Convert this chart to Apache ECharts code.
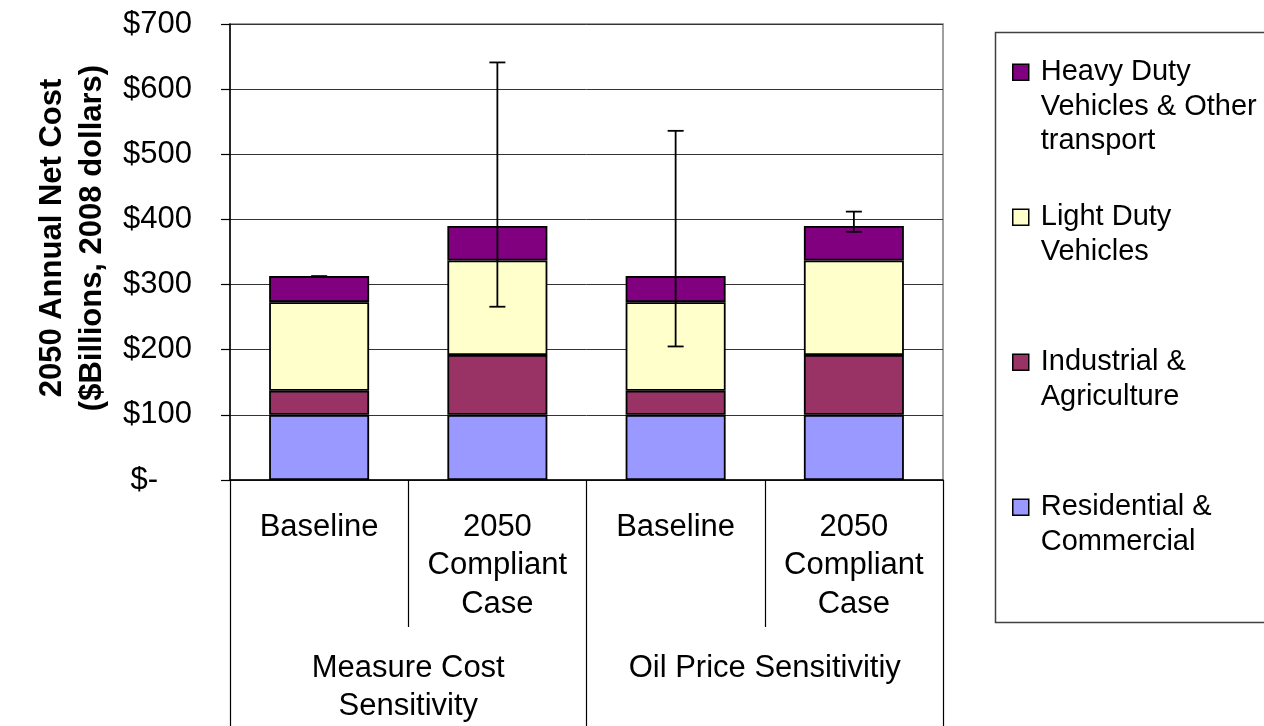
<!DOCTYPE html>
<html>
<head>
<meta charset="utf-8">
<title>2050 Annual Net Cost</title>
<script src="https://cdn.jsdelivr.net/npm/echarts@6/dist/echarts.min.js"></script>
<style>
  html, body { margin: 0; padding: 0; background: #ffffff; }
  #chart { width: 1264px; height: 726px; }
</style>
</head>
<body>
<div id="chart"></div>
<script>
// Cases on the inner axis and sensitivity groups on the outer axis
const caseLabels = ['Baseline', '2050\nCompliant\nCase', 'Baseline', '2050\nCompliant\nCase'];
const groupLabels = ['Measure Cost\nSensitivity', 'Oil Price Sensitivitiy'];

// Sectors, stacked bottom to top
const sectorNames = [
  'Residential & Commercial',
  'Industrial & Agriculture',
  'Light Duty Vehicles',
  'Heavy Duty Vehicles & Other transport'
];
const sectorLabels = [
  'Residential &\nCommercial',
  'Industrial &\nAgriculture',
  'Light Duty\nVehicles',
  'Heavy Duty\nVehicles & Other\ntransport'
];
const sectorColors = ['#9999FF', '#993366', '#FFFFCC', '#800080'];

// 2050 annual net cost by sector ($ billions, 2008 dollars)
const residential = [100, 100, 100, 100];
const industrial = [37, 92, 37, 92];
const lightDuty = [136, 145, 136, 145];
const heavyDuty = [40, 53, 40, 53];

// Sensitivity range on the total (low / high)
const rangeLow = [312, 266, 205, 381];
const rangeHigh = [313, 641, 536, 412];

// Value axis
const yMin = 0, yMax = 700, yStep = 100;

const FONT = "'Liberation Sans', Arial, sans-serif";
const sectorValues = [residential, industrial, lightDuty, heavyDuty];

const barSeries = sectorNames.map((name, i) => ({
  name: name,
  type: 'bar',
  stack: 'total',
  barWidth: 100,
  data: sectorValues[i],
  itemStyle: { color: sectorColors[i], borderColor: '#000000', borderWidth: 1.8 },
  emphasis: { disabled: true },
  z: 2
}));

const errorSeries = {
  name: 'range',
  type: 'custom',
  z: 5,
  silent: true,
  encode: { x: 0, y: [1, 2] },
  data: rangeLow.map((lo, i) => [i, lo, rangeHigh[i]]),
  renderItem: function (params, api) {
    const idx = api.value(0);
    const pLo = api.coord([idx, api.value(1)]);
    const pHi = api.coord([idx, api.value(2)]);
    const half = 8;
    const st = { stroke: '#000000', lineWidth: 1.8 };
    return {
      type: 'group',
      children: [
        { type: 'line', shape: { x1: pLo[0], y1: pLo[1], x2: pHi[0], y2: pHi[1] }, style: st },
        { type: 'line', shape: { x1: pLo[0] - half, y1: pLo[1], x2: pLo[0] + half, y2: pLo[1] }, style: st },
        { type: 'line', shape: { x1: pHi[0] - half, y1: pHi[1], x2: pHi[0] + half, y2: pHi[1] }, style: st }
      ]
    };
  }
};

// Legend: top of stack first. Each entry is padded with blank lines to five
// lines so that its first text line sits level with the swatch.
const legendLine = 34.5;
const legendOrder = [3, 2, 1, 0];
function legendText(label) {
  const lines = label.split('\n');
  const before = 2;
  const after = 5 - before - lines.length;
  return '\n'.repeat(before) + lines.join('\n') + '\n'.repeat(after) + (after > 0 ? ' ' : '');
}

const option = {
  backgroundColor: '#ffffff',
  animation: false,
  textStyle: { fontFamily: FONT, color: '#000000' },
  grid: {
    left: 230, right: 321, top: 24, bottom: 246,
    show: true, borderColor: '#808080', borderWidth: 1.5, backgroundColor: 'transparent'
  },
  legend: {
    orient: 'vertical',
    left: 1012,
    top: -14,
    padding: 0,
    itemGap: -27.5,
    itemWidth: 16,
    itemHeight: 16,
    icon: 'rect',
    selectedMode: false,
    itemStyle: { borderColor: '#000000', borderWidth: 1.5 },
    textStyle: { fontFamily: FONT, fontSize: 29, color: '#000000', lineHeight: legendLine, padding: [0, 0, 0, 7] },
    data: legendOrder.map(i => sectorNames[i]),
    formatter: name => legendText(sectorLabels[sectorNames.indexOf(name)])
  },
  xAxis: [
    {
      type: 'category',
      data: caseLabels,
      position: 'bottom',
      axisLine: { show: true, lineStyle: { color: '#000000', width: 1.5 } },
      axisTick: { show: true, interval: 0, length: 147, lineStyle: { color: '#000000', width: 1.2 } },
      axisLabel: {
        interval: 0, margin: 28, fontFamily: FONT, fontSize: 31, lineHeight: 38.5, color: '#000000'
      },
      splitLine: { show: false }
    },
    {
      type: 'category',
      data: groupLabels,
      position: 'bottom',
      offset: 147,
      axisLine: { show: false },
      axisTick: { show: true, interval: 0, length: 110, lineStyle: { color: '#000000', width: 1.2 } },
      axisLabel: {
        interval: 0, margin: 22, fontFamily: FONT, fontSize: 31, lineHeight: 38, color: '#000000'
      },
      splitLine: { show: false }
    }
  ],
  yAxis: {
    type: 'value',
    min: yMin,
    max: yMax,
    interval: yStep,
    name: '2050 Annual Net Cost\n($Billions, 2008 dollars)',
    nameLocation: 'middle',
    nameRotate: 90,
    nameGap: 117,
    nameTextStyle: {
      fontFamily: FONT, fontSize: 31, fontWeight: 'bold', lineHeight: 40, color: '#000000',
      padding: [0, 0, 0, 28]
    },
    axisLine: { show: true, lineStyle: { color: '#000000', width: 1.5 } },
    axisTick: { show: true, length: 9, lineStyle: { color: '#000000', width: 1.2 } },
    axisLabel: {
      margin: 38,
      fontFamily: FONT,
      fontSize: 31,
      color: '#000000',
      formatter: v => (v === 0 ? '{dash|$-}' : '$' + v),
      rich: {
        dash: { fontFamily: FONT, fontSize: 31, color: '#000000', padding: [0, 34, 0, 0] }
      }
    },
    splitLine: { show: true, lineStyle: { color: '#333333', width: 1 } }
  },
  graphic: [
    {
      type: 'rect',
      left: 993,
      top: 30,
      shape: { width: 300, height: 590 },
      style: { fill: 'none', stroke: '#404040', lineWidth: 1.5 },
      silent: true,
      z: -1
    }
  ],
  series: barSeries.concat([errorSeries])
};

const chart = echarts.init(document.getElementById('chart'), null, { renderer: 'canvas' });
chart.setOption(option);
</script>
</body>
</html>
